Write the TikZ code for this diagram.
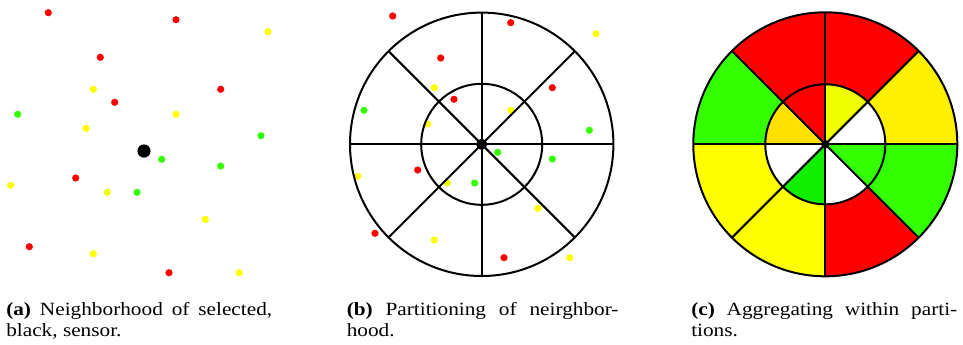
\documentclass[tikz,border=0pt]{standalone}
\usepackage{graphicx}
\usepackage{fontspec}
\setmainfont{Liberation Serif}
\definecolor{sred}{HTML}{FF0000}
\definecolor{syel}{HTML}{FFFF00}
\definecolor{syeo}{HTML}{FFF000}
\definecolor{slim}{HTML}{EEFF00}
\definecolor{sgold}{HTML}{FFE000}
\definecolor{sgrn}{HTML}{33FF00}
\definecolor{sgrb}{HTML}{11EE00}
\newcommand{\capfont}{\fontsize{14pt}{17pt}\selectfont}
\newcommand{\capline}[2]{\scalebox{1.14}[1]{\capfont\makebox[#1][s]{#2}}}
\newcommand{\capplain}[1]{\scalebox{1.14}[1]{\capfont #1}}
\begin{document}
\begin{tikzpicture}[x=0.75pt,y=-0.75pt,
  ring/.style={draw=black,line width=1.5pt},
  spoke/.style={draw=black,line width=1.5pt},
  captext/.style={anchor=base west,inner sep=0pt}]
\useasboundingbox[fill=white] (0,0) rectangle (963,344);
% ---------- panel (a) ----------
\foreach \x/\y/\c in {48.3/12.7/sred,176/19.7/sred,268/31.7/syel,100.3/57.3/sred,
  93.3/89.3/syel,220.7/89.3/sred,114.7/102.3/sred,17.7/114.3/sgrn,176/114.3/syel,
  86/128.3/syel,261/135.7/sgrn,161.7/159.3/sgrn,220.7/166/sgrn,75.7/178/sred,
  10.7/185.3/syel,107.3/192.3/slim,137/192.3/sgrn,205.3/219.3/syel,29.3/246.7/sred,
  93.3/253.7/syel,169/272.7/sred,239.3/272.7/syel}
  \fill[\c] (\x,\y) circle (3.6);
\fill[black] (144,151) circle (6.6);
% ---------- panel (b) ----------
\foreach \x/\y/\c in {392.7/16/sred,510.7/22.7/sred,596/33.7/syel,440.7/58/sred,
  434.3/87.7/syel,552.3/87.7/sred,454/99.3/sred,364/110.3/sgrn,510.7/110.3/syel,
  427.7/124/syel,589.3/130.3/sgrn,497.7/152.3/sgrn,552.3/159/sgrn,417.7/170/sred,
  357.7/176.3/syel,447.3/183/slim,474.7/183/sgrn,538/208.3/syel,375/233.3/sred,
  434.3/240/syel,504/257.7/sred,569.7/257.7/syel}
  \fill[\c] (\x,\y) circle (3.6);
\begin{scope}[shift={(481.7,144.3)},yscale=-1]
  \draw[ring] (0,0) circle (131.7);
  \draw[ring] (0,0) circle (60.5);
  \foreach \a in {0,45,...,315} \draw[spoke] (0,0) -- (\a:131.7);
  \fill[black] (0,0) circle (5.6);
\end{scope}
% ---------- panel (c) ----------
\begin{scope}[shift={(825.3,144.3)},yscale=-1]
  \foreach \a/\c in {0/syeo,45/sred,90/sred,135/sgrn,180/syel,225/syel,270/sred,315/sgrn}
    \fill[\c] (0,0) -- (\a:132) arc[start angle=\a,end angle=\a+45,radius=132] -- cycle;
  \foreach \a/\c in {0/white,45/slim,90/sred,135/sgold,180/white,225/sgrb,270/white,315/sgrn}
    \fill[\c] (0,0) -- (\a:60) arc[start angle=\a,end angle=\a+45,radius=60] -- cycle;
  \draw[ring] (0,0) circle (132);
  \draw[ring] (0,0) circle (60);
  \foreach \a in {0,45,...,315} \draw[spoke] (0,0) -- (\a:132);
  \fill[black] (0,0) circle (4.2);
\end{scope}
% ---------- captions ----------
\node[captext] (capa1) at (6,315) {\capline{175pt}{\textbf{(a)} Neighborhood of selected,}};
\node[captext] (capa2) at (6,336.5) {\capplain{black, sensor.}};
\node[captext] (capb1) at (346.5,315) {\capline{178.8pt}{\textbf{(b)} Partitioning of neirghbor-}};
\node[captext] (capb2) at (346.5,336.5) {\capplain{hood.}};
\node[captext] (capc1) at (691,315) {\capline{175pt}{\textbf{(c)} Aggregating within parti-}};
\node[captext] (capc2) at (691,336.5) {\capplain{tions.}};
\end{tikzpicture}
\end{document}
